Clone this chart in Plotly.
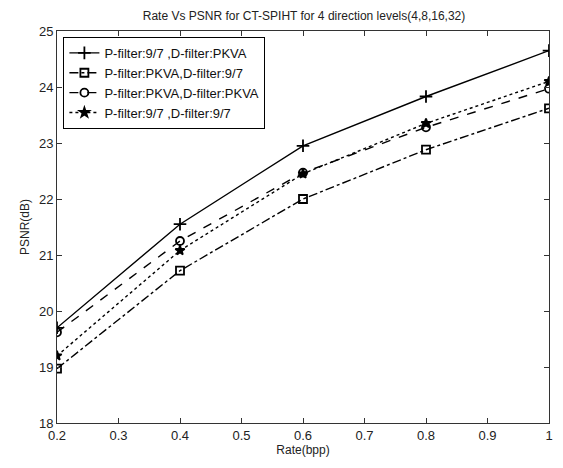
import plotly.graph_objects as go

rate = [0.2, 0.4, 0.6, 0.8, 1.0]
psnr_p97_dpkva = [19.70, 21.55, 22.95, 23.83, 24.65]
psnr_ppkva_d97 = [18.97, 20.72, 22.00, 22.88, 23.62]
psnr_ppkva_dpkva = [19.62, 21.25, 22.47, 23.28, 23.97]
psnr_p97_d97 = [19.20, 21.08, 22.45, 23.35, 24.10]

names = ["P-filter:9/7 ,D-filter:PKVA", "P-filter:PKVA,D-filter:9/7",
         "P-filter:PKVA,D-filter:PKVA", "P-filter:9/7 ,D-filter:9/7"]
series = [psnr_p97_dpkva, psnr_ppkva_d97, psnr_ppkva_dpkva, psnr_p97_d97]
dashes = ["solid", "dashdot", "dash", "dot"]
symbols = ["cross-thin-open", "square-open", "circle-open", "star"]
sizes = [9, 8, 8, 7]

fig = go.Figure()
for name, y, d, s, sz in zip(names, series, dashes, symbols, sizes):
    fig.add_trace(go.Scatter(
        x=rate, y=y, name=name, mode="lines+markers",
        line=dict(color="black", width=1.4, dash=d),
        marker=dict(symbol=s, size=sz, color="black",
                    line=dict(color="black", width=1.8)),
    ))

font = "Arial, Liberation Sans"
axis_common = dict(
    showline=True, linecolor="#333", linewidth=1, mirror="ticks",
    ticks="inside", ticklen=5, tickcolor="#333", showgrid=False,
    zeroline=False, tickfont=dict(family=font, size=13, color="#222"),
)
fig.update_xaxes(range=[0.2, 1.0], dtick=0.1, tickformat=".1~f",
                 title=dict(text="Rate(bpp)", font=dict(family=font, size=12, color="#222"), standoff=4),
                 **axis_common)
fig.update_yaxes(range=[18, 25], dtick=1,
                 title=dict(text="PSNR(dB)", font=dict(family=font, size=12, color="#222"), standoff=6),
                 **axis_common)

fig.update_layout(
    width=563, height=468,
    margin=dict(l=57, r=10, t=31, b=45),
    paper_bgcolor="white", plot_bgcolor="white",
    title=dict(text="Rate Vs PSNR for CT-SPIHT for 4 direction levels(4,8,16,32)",
               x=0.54, xanchor="center", y=0.975, yanchor="top",
               font=dict(family=font, size=12, color="#222")),
    legend=dict(x=0.013, y=0.985, xanchor="left", yanchor="top",
                bordercolor="black", borderwidth=1, bgcolor="white",
                font=dict(family=font, size=13, color="#111"),
                tracegroupgap=0, itemwidth=30),
    showlegend=True,
)

fig.write_html("out.html")
